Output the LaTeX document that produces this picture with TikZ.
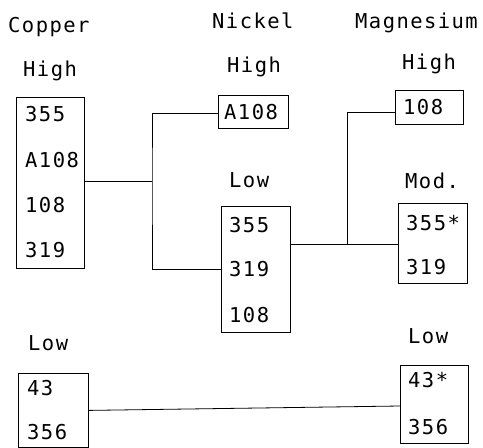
\documentclass[tikz,border=0pt]{standalone}
\usepackage{fontspec}
\newfontfamily\mono[LetterSpace=7]{DejaVu Sans Mono}
\begin{document}
\begin{tikzpicture}[x=1pt,y=-1pt,
  box/.style={draw, line width=0.8pt, inner sep=0, anchor=north west},
  lbl/.style={font=\mono\fontsize{20.5}{24}\selectfont, inner sep=0, anchor=base west},
  item/.style={font=\mono\fontsize{20.5}{24}\selectfont, inner sep=0, anchor=west},
  conn/.style={line width=0.8pt}]
\useasboundingbox (0,0) rectangle (483,448);
% headings
\node[lbl] (hcu) at (8,32) {Copper};
\node[lbl] (hni) at (212,28) {Nickel};
\node[lbl] (hmg) at (355,28) {Magnesium};
\node[lbl] (cuHl) at (23,76) {High};
\node[lbl] (niHl) at (227,72) {High};
\node[lbl] (mgHl) at (402,69) {High};
\node[lbl] (niLl) at (229,187) {Low};
\node[lbl] (mgMl) at (405,188) {Mod.};
\node[lbl] (cuLl) at (28,350) {Low};
\node[lbl] (mgLl) at (408,343) {Low};
% boxes
\node[box, minimum width=68pt, minimum height=171pt] (cuH) at (16,97) {};
\node[box, minimum width=70pt, minimum height=33pt] (niH) at (218,95) {};
\node[box, minimum width=69pt, minimum height=126pt] (niL) at (221,206) {};
\node[box, minimum width=68pt, minimum height=34pt] (mgH) at (395,90) {};
\node[box, minimum width=69pt, minimum height=80pt] (mgM) at (398,203) {};
\node[box, minimum width=70pt, minimum height=74pt] (cuL) at (18,373) {};
\node[box, minimum width=68pt, minimum height=78pt] (mgL) at (400,365) {};
% items
\node[item] (c1) at (25,114) {355};
\node[item] (c2) at (25,160) {A108};
\node[item] (c3) at (25,205) {108};
\node[item] (c4) at (25,250) {319};
\node[item] (n1) at (224,112) {A108};
\node[item] (n2) at (229,225) {355};
\node[item] (n3) at (229,269) {319};
\node[item] (n4) at (229,315) {108};
\node[item] (m1) at (403,107) {108};
\node[item] (m2) at (406,223) {355*};
\node[item] (m3) at (406,267) {319};
\node[item] (l1) at (27,388) {43};
\node[item] (l2) at (27,432) {356};
\node[item] (l3) at (408,380) {43*};
\node[item] (l4) at (408,427) {356};
% connectors
\coordinate (j1) at (152,181);
\coordinate (k1) at (152,113);
\coordinate (j2) at (347,244);
\coordinate (k2) at (347,112);
\coordinate (e3) at (400,406);
\draw[conn] (cuH.east |- j1) -- (j1);
\draw[conn] (niH.west |- k1) -- (k1) -- (j1) |- (niL.west);
\draw[conn] (mgH.west |- k2) -- (k2) -- (j2);
\draw[conn] (niL.east |- j2) -- (mgM.west |- j2);
\draw[conn] (cuL.east) -- (mgL.west |- e3);
\end{tikzpicture}
\end{document}
